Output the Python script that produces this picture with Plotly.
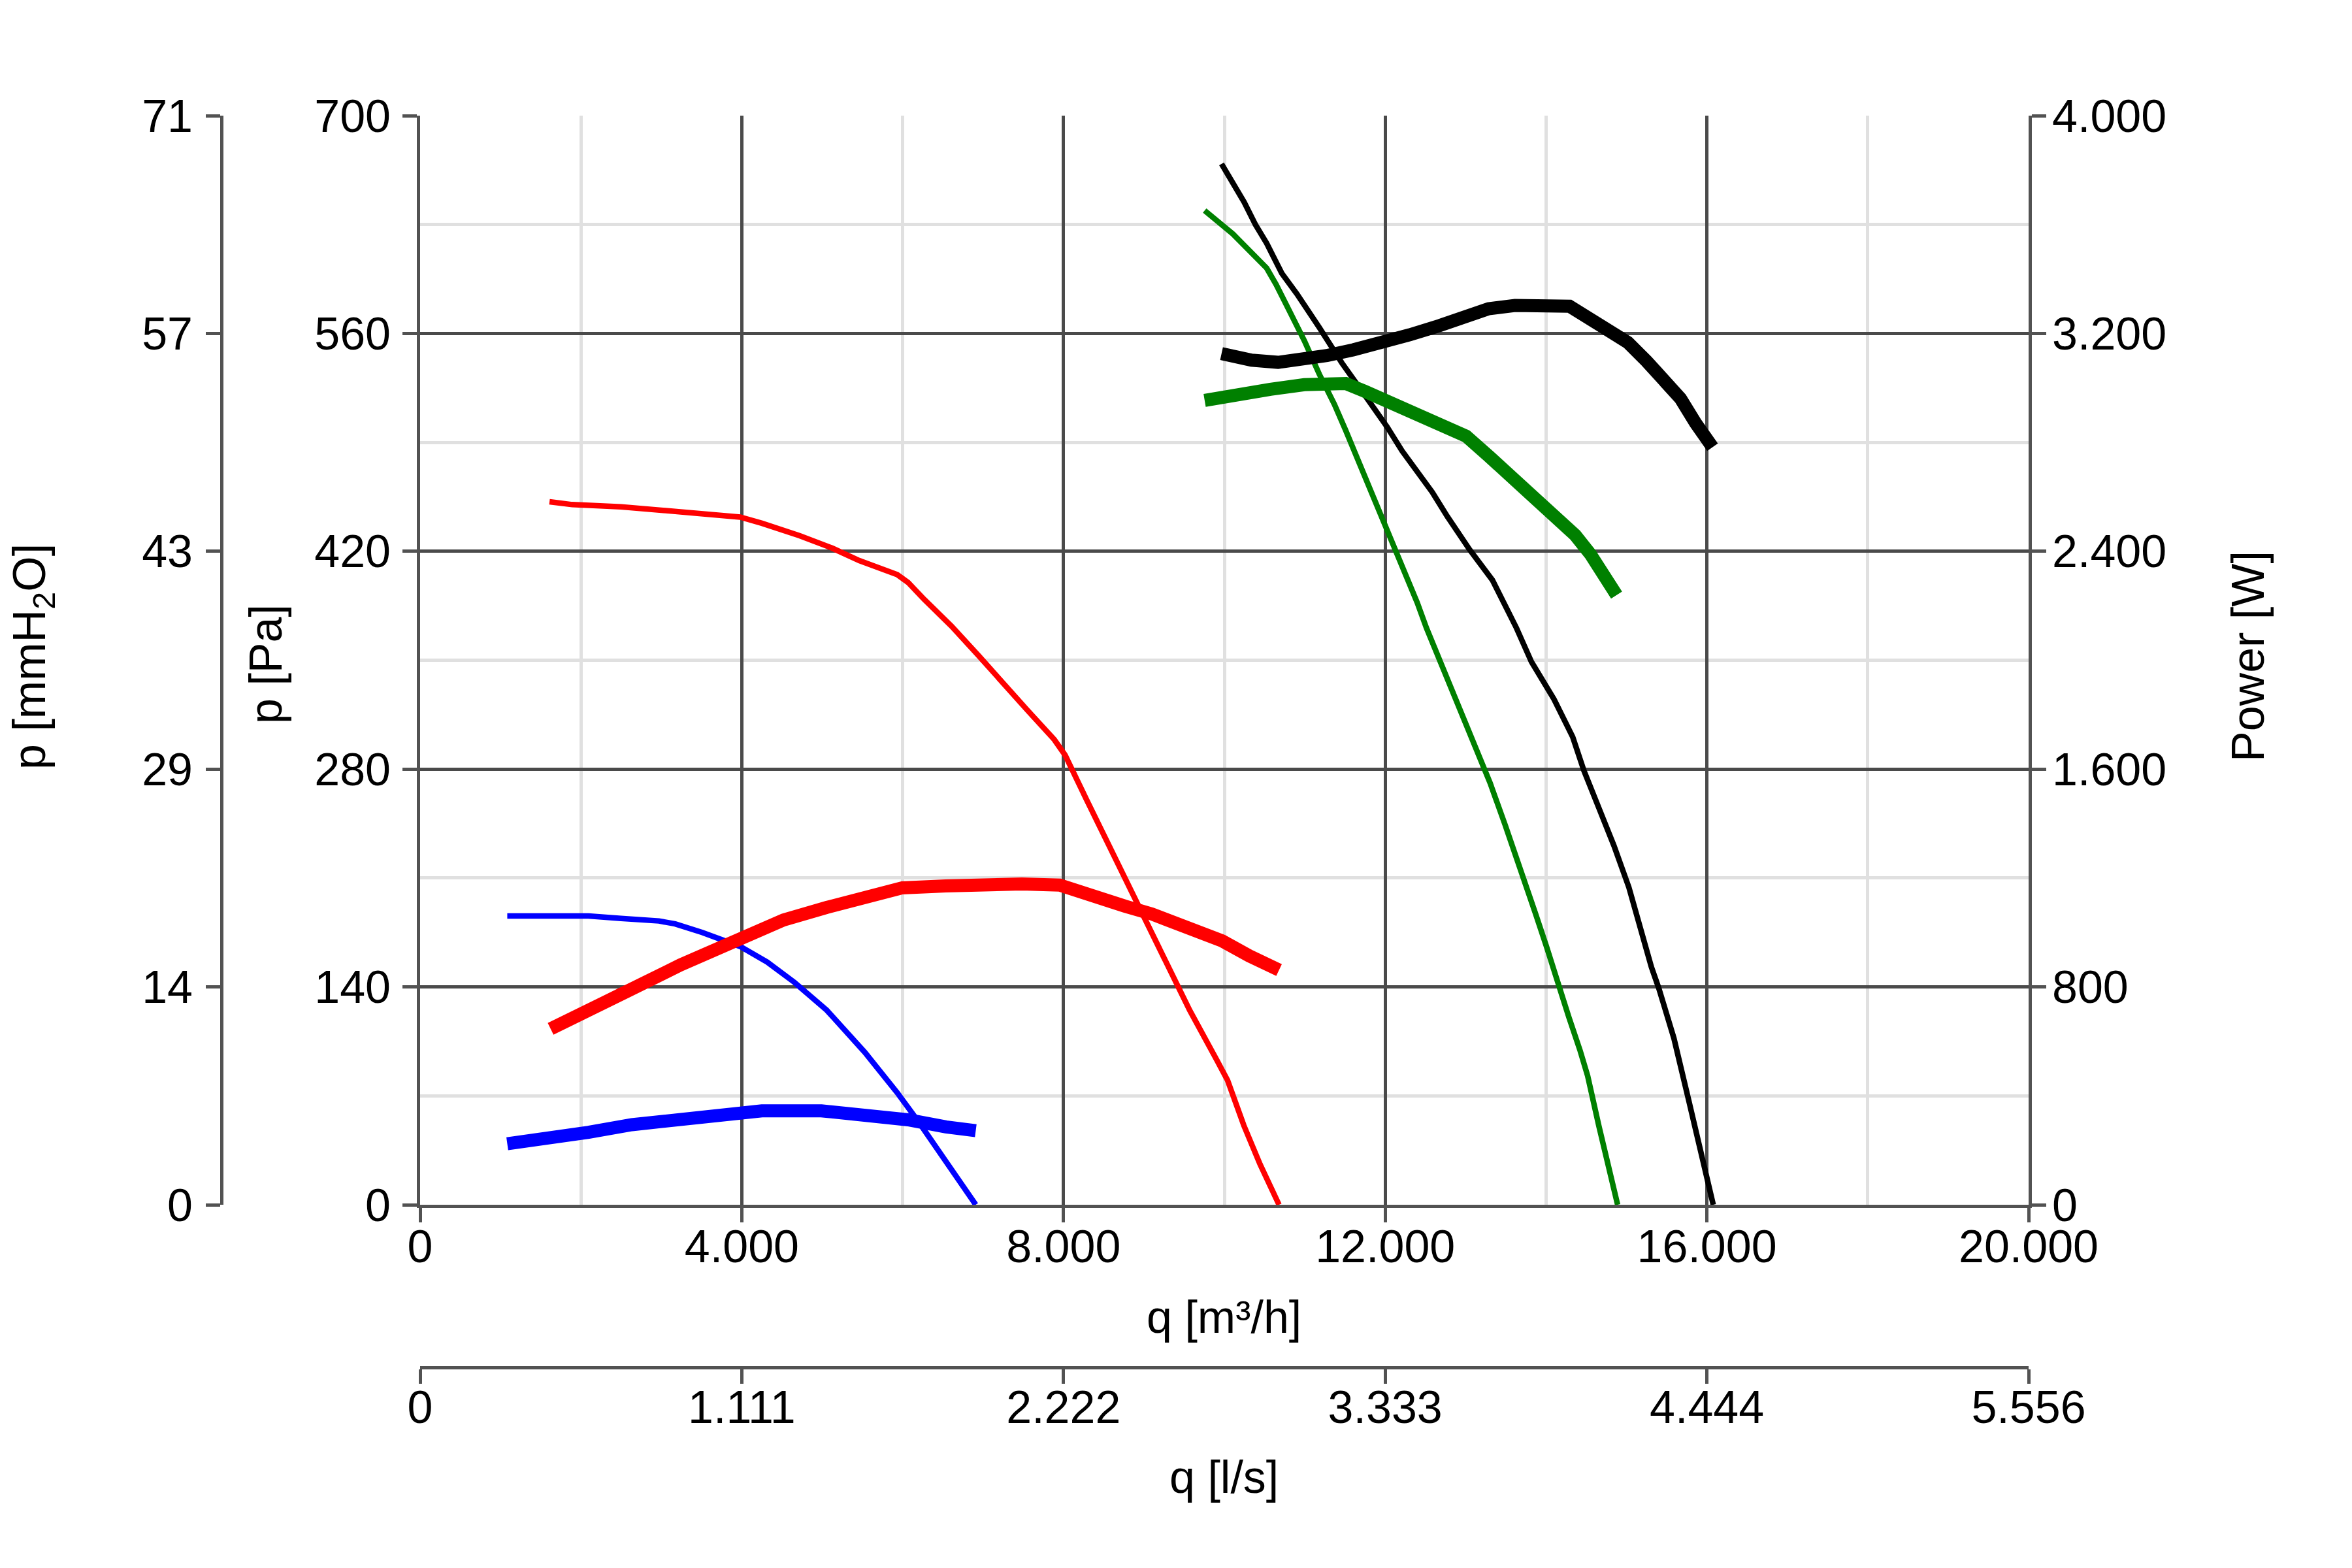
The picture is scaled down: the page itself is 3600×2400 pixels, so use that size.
import plotly.graph_objects as go
import numpy as np

# ---- data ----
# q in m3/h, pressure in Pa, power in W
blue_p_q = [1084, 2094, 2498, 2970, 3172, 3508, 3980, 4316, 4653, 5057, 5529, 5933, 6202, 6539, 6909]
blue_p = [185.6, 185.6, 184, 182.4, 180.5, 175, 166, 156, 143, 125, 98, 72, 53, 27, 0]
blue_w_q = [1084, 1556, 2094, 2633, 3306, 3845, 4249, 4990, 5596, 6067, 6539, 6909]
blue_w = [224, 239, 266, 294, 319, 339, 345, 345, 327, 312, 286, 272]

red_p_q = [1609, 1892, 2498, 3037, 3441, 3980, 4249, 4720, 5125, 5461, 5933, 6067, 6269, 6606, 6943,
           7212, 7549, 7885, 8020, 8290, 8626, 8963, 9232, 9569, 9906, 10040, 10242, 10444, 10680]
red_p = [451.8, 450, 448.6, 446, 444, 442, 438, 430, 422, 414, 405, 400, 389, 372, 353,
         337, 318, 299, 289, 260, 225, 189, 161, 125, 93, 80, 51, 26, 0]
red_w_q = [1623, 1892, 2296, 2768, 3239, 3643, 4047, 4519, 5057, 5596, 5996, 6535, 6943, 7482, 7953,
           8357, 8761, 9098, 9502, 9973, 10310, 10680]
red_w = [646, 688, 743, 812, 881, 937, 982, 1046, 1092, 1135, 1164, 1171, 1178, 1178, 1174,
         1141, 1097, 1068, 1024, 969, 914, 862]

green_p_q = [9755, 10105, 10526, 10643, 10807, 10994, 11181, 11368, 11509, 11743, 11977, 12210, 12398,
             12513, 12746, 12932, 13119, 13305, 13492, 13678, 13865, 14005, 14144, 14284, 14424,
             14517, 14657, 14774, 14890]
green_p = [639, 624, 602, 591.5, 574.7, 555.4, 533.8, 514.5, 497.7, 468.8, 440, 411, 387,
           370.7, 341, 317, 292.7, 271, 244, 217, 187.8, 166, 142, 120.5, 99,
           82.9, 50.6, 23.7, 0]
green_w_q = [9755, 10105, 10573, 10994, 11275, 11509, 11743, 12023, 12398, 12678, 13006, 13286, 13614,
             13895, 14129, 14363, 14550, 14737, 14877]
green_w = [2954, 2975, 2995, 3012, 3016, 3016, 2988, 2951, 2902, 2869, 2823, 2750, 2665,
           2583, 2521, 2459, 2390, 2308, 2239]

black_p_q = [9965, 10105, 10246, 10386, 10526, 10714, 10901, 11181, 11462, 11743, 12023, 12210, 12585,
             12772, 13053, 13333, 13632, 13818, 14098, 14331, 14471, 14657, 14844, 15030, 15170,
             15310, 15403, 15590, 15776, 15963, 16079]
black_p = [669, 656.4, 644.4, 630, 618, 598.7, 585.5, 563.8, 541, 520.6, 500, 484.5, 458,
           442.4, 420.8, 401.5, 370.7, 349, 325, 300.7, 279, 255, 230.8, 204, 177,
           152.8, 139, 107, 66.7, 26.4, 0]
black_w_q = [9965, 10152, 10339, 10667, 10947, 11275, 11602, 11977, 12304, 12678, 13006, 13286, 13614,
             14082, 14292, 14456, 14737, 15017, 15251, 15485, 15672, 15859, 16070]
black_w = [3126, 3112, 3102, 3094, 3101, 3119, 3140, 3163, 3195, 3229, 3260, 3291, 3303,
           3303, 3300, 3270, 3222, 3167, 3098, 3030, 2961, 2871, 2782]

q_ticks = [0, 4000, 8000, 12000, 16000, 20000]
p_ticks = [0, 140, 280, 420, 560, 700]
w_ticks = [0, 800, 1600, 2400, 3200, 4000]
PA_PER_MMH2O = 9.80665
LS_PER_M3H = 1 / 3.6
Q_MAX, P_MAX, W_MAX = 20000, 700, 4000

# ---- geometry (pixels, measured on the page; page = figure + body margin) ----
OFF = 8
W, H = 3600, 2400
PAPER_L, PAPER_R, PAPER_T, PAPER_B = 339 - OFF, 3105 - OFF, 177 - OFF, 2093 - OFF
PLOT_L, PLOT_B = 643 - OFF, 1844 - OFF
pw, ph = PAPER_R - PAPER_L, PAPER_B - PAPER_T
xdom0 = (PLOT_L - PAPER_L) / pw
ydom0 = (PAPER_B - PLOT_B) / ph

def px(xp):
    return (xp - OFF - PAPER_L) / pw

def py(yp):
    return (PAPER_B - (yp - OFF)) / ph

FONT = "Liberation Sans, Arial, sans-serif"
FS = 70
AXC = "#525252"
GRID = "#4a4a4a"
MINOR = "#e0e0e0"
THIN, THICK = 8.5, 20

fig = go.Figure()
series = [
    ("blue", blue_p_q, blue_p, blue_w_q, blue_w),
    ("red", red_p_q, red_p, red_w_q, red_w),
    ("green", green_p_q, green_p, green_w_q, green_w),
    ("black", black_p_q, black_p, black_w_q, black_w),
]
colors = {"blue": "#0000ff", "red": "#ff0000", "green": "#008000", "black": "#000000"}
for name, pq, pv, wq, wv in series:
    fig.add_trace(go.Scatter(x=pq, y=pv, mode="lines", line=dict(color=colors[name], width=THIN),
                             xaxis="x", yaxis="y", showlegend=False, hoverinfo="skip"))
    fig.add_trace(go.Scatter(x=wq, y=wv, mode="lines", line=dict(color=colors[name], width=THICK),
                             xaxis="x", yaxis="y2", showlegend=False, hoverinfo="skip"))

# invisible carriers so the secondary scales (l/s and mmH2O) are drawn
fig.add_trace(go.Scatter(x=[0, Q_MAX * LS_PER_M3H], y=[0, 0], mode="markers", opacity=0,
                         xaxis="x2", yaxis="y", showlegend=False, hoverinfo="skip"))
fig.add_trace(go.Scatter(x=[0, 0], y=[0, P_MAX / PA_PER_MMH2O], mode="markers", opacity=0,
                         xaxis="x", yaxis="y3", showlegend=False, hoverinfo="skip"))

tickfont = dict(family=FONT, size=FS, color="black")
common = dict(showline=True, linecolor=AXC, linewidth=5, ticks="outside", tickcolor=AXC,
              tickwidth=5, zeroline=False, tickfont=tickfont, automargin=False, layer="above traces")

fig.update_layout(
    width=W, height=H,
    paper_bgcolor="white", plot_bgcolor="white",
    separators=",.",
    margin=dict(l=PAPER_L, r=W - PAPER_R, t=PAPER_T, b=H - PAPER_B, autoexpand=False),
    font=dict(family=FONT, size=FS, color="black"),
    xaxis=dict(domain=[xdom0, 1], range=[0, Q_MAX], tickvals=q_ticks, tickformat=",d",
               separatethousands=True, ticklen=22, ticklabelstandoff=-23,
               showgrid=True, gridcolor=GRID, gridwidth=5,
               minor=dict(dtick=2000, showgrid=True, gridcolor=MINOR, gridwidth=5, ticks=""),
               anchor="y", **common),
    xaxis2=dict(domain=[xdom0, 1], range=[0, Q_MAX * LS_PER_M3H],
                tickvals=[v * LS_PER_M3H for v in q_ticks], tickformat=",.0f", separatethousands=True,
                ticklen=22, ticklabelstandoff=-24, showgrid=False, overlaying="x", anchor="free",
                position=0, side="bottom", **common),
    yaxis=dict(domain=[ydom0, 1], range=[0, P_MAX], tickvals=p_ticks, ticklen=22,
               showgrid=True, gridcolor=GRID, gridwidth=5,
               minor=dict(dtick=70, showgrid=True, gridcolor=MINOR, gridwidth=5, ticks=""),
               anchor="x", ticklabelstandoff=4, **common),
    yaxis2=dict(range=[0, W_MAX], tickvals=w_ticks, tickformat=",d", separatethousands=True,
                ticklen=22, showgrid=False, overlaying="y", side="right", anchor="x",
                ticklabelstandoff=-5, **common),
    yaxis3=dict(range=[0, P_MAX / PA_PER_MMH2O], tickvals=[v / PA_PER_MMH2O for v in p_ticks],
                tickformat=".0f", ticklen=22, showgrid=False, overlaying="y", side="left",
                anchor="free", position=0, ticklabelstandoff=6, **common),
)

ann = dict(xref="paper", yref="paper", showarrow=False, font=dict(family=FONT, size=FS, color="black"))
fig.add_annotation(text="p [mmH<sub>2</sub>O]", x=px(50), y=py(1005), textangle=-90,
                   xanchor="center", yanchor="middle", **ann)
fig.add_annotation(text="p [Pa]", x=px(407), y=py(1017), textangle=-90,
                   xanchor="center", yanchor="middle", **ann)
fig.add_annotation(text="Power [W]", x=px(3441), y=py(1005), textangle=-90,
                   xanchor="center", yanchor="middle", **ann)
fig.add_annotation(text="q [m³/h]", x=px(1874), y=py(2016),
                   xanchor="center", yanchor="middle", **ann)
fig.add_annotation(text="q [l/s]", x=px(1874), y=py(2261),
                   xanchor="center", yanchor="middle", **ann)

fig.write_html("out.html")
